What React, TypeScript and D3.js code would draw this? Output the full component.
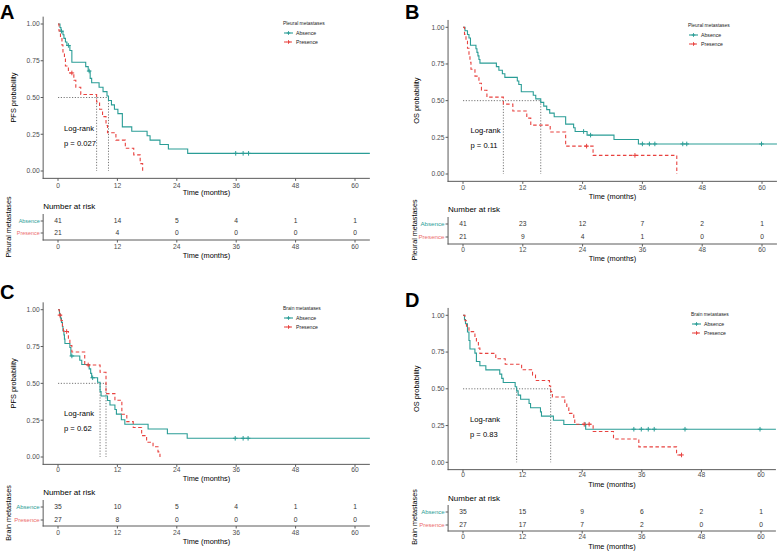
import React from "react";
import * as d3 from "d3";

type Pt = [number, number];

const timeTicks = [0, 12, 24, 36, 48, 60];
const probTicks = [0, 0.25, 0.5, 0.75, 1];
const groupNames = ["Absence", "Presence"];
const colors = ["#2A9D96", "#E8423F"];
const tableLabelColors = ["#2A9D96", "#EC6C6C"];

// ---- Panel A: PFS by pleural metastases ----
const aAbsence: Pt[] = [
  [0.4, 0.976], [0.6, 0.951], [1.0, 0.927], [1.2, 0.902], [1.5, 0.878], [1.8, 0.854],
  [2.4, 0.82], [2.8, 0.74], [5.6, 0.71], [6.1, 0.68], [6.5, 0.63], [6.8, 0.6],
  [8.3, 0.57], [9.1, 0.54], [9.9, 0.51], [10.2, 0.48], [10.8, 0.45], [11.4, 0.42],
  [12.1, 0.39], [13.0, 0.3], [14.9, 0.27], [18.0, 0.24], [18.6, 0.21], [20.6, 0.18],
  [22.3, 0.15], [26.2, 0.12],
];
const aAbsenceCensor = [0.7, 2.1, 6.3, 35.9, 37.4, 38.5];
const aAbsenceEnd = 63;
const aPresence: Pt[] = [
  [0.2, 0.952], [0.5, 0.905], [0.8, 0.857], [1.0, 0.81], [1.3, 0.762], [1.5, 0.714],
  [2.1, 0.667], [3.2, 0.617], [3.6, 0.57], [4.6, 0.52], [7.8, 0.47], [8.4, 0.42],
  [9.0, 0.37], [9.7, 0.31], [10.0, 0.26], [11.7, 0.21], [13.6, 0.155], [15.3, 0.11],
  [16.6, 0.05], [17.1, 0.0],
];
const aPresenceCensor = [2.8];
const aPresenceEnd = 17.1;
const aRiskAbsence = [41, 14, 5, 4, 1, 1];
const aRiskPresence = [21, 4, 0, 0, 0, 0];

// ---- Panel B: OS by pleural metastases ----
const bAbsence: Pt[] = [
  [0.4, 0.976], [0.9, 0.951], [1.2, 0.927], [1.5, 0.878], [2.6, 0.854], [2.8, 0.829],
  [3.0, 0.805], [3.2, 0.78], [3.4, 0.756], [6.7, 0.732], [7.2, 0.707], [7.9, 0.683],
  [8.4, 0.659], [10.9, 0.634], [11.2, 0.61], [11.7, 0.561], [14.1, 0.537], [14.6, 0.512],
  [15.6, 0.488], [16.2, 0.463], [16.8, 0.439], [17.4, 0.415], [18.3, 0.39], [20.6, 0.34],
  [22.2, 0.315], [22.5, 0.29], [24.9, 0.265], [30.3, 0.235], [35.2, 0.205],
];
const bAbsenceCensor = [24.2, 25.6, 36.0, 37.4, 38.5, 44.1, 44.9, 59.9];
const bAbsenceEnd = 63;
const bPresence: Pt[] = [
  [0.3, 0.952], [0.6, 0.905], [0.9, 0.857], [1.2, 0.81], [1.4, 0.762], [1.6, 0.714],
  [2.4, 0.667], [3.2, 0.619], [3.7, 0.571], [4.8, 0.524], [8.1, 0.476], [10.0, 0.429],
  [12.8, 0.381], [13.6, 0.333], [17.5, 0.286], [20.6, 0.19], [26.1, 0.127], [42.9, 0.0],
];
const bPresenceCensor = [24.8, 34.5];
const bPresenceEnd = 42.9;
const bRiskAbsence = [41, 23, 12, 7, 2, 1];
const bRiskPresence = [21, 9, 4, 1, 0, 0];

// ---- Panel C: PFS by brain metastases ----
const cAbsence: Pt[] = [
  [0.3, 0.971], [0.5, 0.943], [0.7, 0.914], [0.9, 0.886], [1.0, 0.857], [1.2, 0.829],
  [1.3, 0.8], [1.4, 0.771], [2.4, 0.743], [2.6, 0.686], [4.4, 0.657], [4.8, 0.628],
  [6.3, 0.598], [6.6, 0.568], [6.8, 0.538], [8.0, 0.507], [8.5, 0.445], [8.7, 0.414],
  [10.0, 0.384], [10.5, 0.353], [11.5, 0.322], [11.8, 0.291], [12.8, 0.253],
  [13.5, 0.222], [18.2, 0.19], [22.1, 0.158], [26.1, 0.127],
];
const cAbsenceCensor = [2.8, 7.0, 35.8, 37.4, 38.4];
const cAbsenceEnd = 63;
const cPresence: Pt[] = [
  [0.27, 0.963], [0.6, 0.926], [0.9, 0.889], [1.1, 0.852], [2.1, 0.8], [2.4, 0.757],
  [2.8, 0.713], [5.4, 0.625], [8.5, 0.575], [9.7, 0.43], [11.5, 0.385], [12.9, 0.29],
  [13.9, 0.24], [15.2, 0.2], [16.9, 0.145], [17.9, 0.1], [19.2, 0.07], [20.2, 0.035],
  [20.6, 0.0],
];
const cPresenceCensor = [0.4, 1.75, 6.1];
const cPresenceEnd = 20.6;
const cRiskAbsence = [35, 10, 5, 4, 1, 1];
const cRiskPresence = [27, 8, 0, 0, 0, 0];

// ---- Panel D: OS by brain metastases ----
const dAbsence: Pt[] = [
  [0.3, 0.971], [0.5, 0.943], [0.9, 0.886], [1.2, 0.829], [1.4, 0.771], [2.4, 0.743],
  [2.7, 0.686], [3.4, 0.657], [4.6, 0.629], [7.4, 0.6], [7.8, 0.571], [8.1, 0.543],
  [10.5, 0.514], [10.8, 0.486], [11.1, 0.457], [11.6, 0.429], [13.3, 0.4], [13.6, 0.371],
  [15.6, 0.343], [15.8, 0.314], [18.2, 0.286], [20.3, 0.257], [24.7, 0.225],
];
const dAbsenceCensor = [24.6, 34.4, 35.9, 37.3, 38.5, 44.7, 59.8];
const dAbsenceEnd = 63;
const dPresence: Pt[] = [
  [0.4, 0.963], [0.7, 0.926], [1.2, 0.889], [2.4, 0.852], [2.7, 0.815], [3.1, 0.778],
  [3.4, 0.741], [6.6, 0.704], [8.5, 0.667], [11.8, 0.63], [14.0, 0.593], [14.6, 0.556],
  [17.4, 0.519], [17.65, 0.481], [18.0, 0.444], [20.5, 0.407], [20.9, 0.37], [21.3, 0.333],
  [22.3, 0.296], [22.5, 0.259], [26.2, 0.21], [30.3, 0.158], [35.4, 0.105], [43.0, 0.05],
];
const dPresenceCensor = [24.4, 25.4, 44.0];
const dPresenceEnd = 44.0;
const dRiskAbsence = [35, 15, 9, 6, 2, 1];
const dRiskPresence = [27, 17, 7, 2, 0, 0];

const FONT = "'Liberation Sans', Arial, Helvetica, sans-serif";

type Curve = { steps: Pt[]; censor: number[]; end: number };

type PanelCfg = {
  letter: string;
  letterX: number;
  letterY: number;
  yLabel: string;
  legendTitle: string;
  pValue: string;
  curves: Curve[];
  risk: number[][];
  x0: number;
  x60: number;
  y1: number;
  y0: number;
  tickY: number;
  titleY: number;
  yLabX: number;
  legX: number;
  legY: number;
  lrX: number;
  lrY: number;
  narY: number;
  row1: number;
  row2: number;
  tAxisY: number;
  tTickY: number;
  tTitleY: number;
  groupX: number;
  groupY: number;
  rowLabelSize: number;
};

const panels: PanelCfg[] = [
  {
    letter: "A", letterX: 0, letterY: 18.5, yLabel: "PFS probability", legendTitle: "Pleural metastases",
    pValue: "p = 0.027",
    curves: [
      { steps: aAbsence, censor: aAbsenceCensor, end: aAbsenceEnd },
      { steps: aPresence, censor: aPresenceCensor, end: aPresenceEnd },
    ],
    risk: [aRiskAbsence, aRiskPresence],
    x0: 58, x60: 355, y1: 24, y0: 171, tickY: 186, titleY: 192.5, yLabX: 13,
    legX: 283, legY: 23, lrX: 64, lrY: 128,
    narY: 206, row1: 221, row2: 233, tAxisY: 240, tTickY: 247, tTitleY: 255,
    groupX: 8, groupY: 227, rowLabelSize: 5.4,
  },
  {
    letter: "B", letterX: 405, letterY: 18.5, yLabel: "OS probability", legendTitle: "Pleural metastases",
    pValue: "p = 0.11",
    curves: [
      { steps: bAbsence, censor: bAbsenceCensor, end: bAbsenceEnd },
      { steps: bPresence, censor: bPresenceCensor, end: bPresenceEnd },
    ],
    risk: [bRiskAbsence, bRiskPresence],
    x0: 463, x60: 762, y1: 27.3, y0: 174, tickY: 187.5, titleY: 196, yLabX: 416,
    legX: 688, legY: 25, lrX: 470.5, lrY: 130.5,
    narY: 209, row1: 224, row2: 237, tAxisY: 244, tTickY: 250, tTitleY: 258,
    groupX: 414, groupY: 230, rowLabelSize: 6.2,
  },
  {
    letter: "C", letterX: 0, letterY: 299, yLabel: "PFS probability", legendTitle: "Brain metastases",
    pValue: "p = 0.62",
    curves: [
      { steps: cAbsence, censor: cAbsenceCensor, end: cAbsenceEnd },
      { steps: cPresence, censor: cPresenceCensor, end: cPresenceEnd },
    ],
    risk: [cRiskAbsence, cRiskPresence],
    x0: 58, x60: 355, y1: 309.7, y0: 457, tickY: 470, titleY: 478, yLabX: 13,
    legX: 283, legY: 308, lrX: 64, lrY: 413.5,
    narY: 492, row1: 507, row2: 520, tAxisY: 526, tTickY: 533, tTitleY: 541,
    groupX: 8, groupY: 513, rowLabelSize: 6,
  },
  {
    letter: "D", letterX: 405, letterY: 307, yLabel: "OS probability", legendTitle: "Brain metastases",
    pValue: "p = 0.83",
    curves: [
      { steps: dAbsence, censor: dAbsenceCensor, end: dAbsenceEnd },
      { steps: dPresence, censor: dPresenceCensor, end: dPresenceEnd },
    ],
    risk: [dRiskAbsence, dRiskPresence],
    x0: 463, x60: 761, y1: 315.3, y0: 462.3, tickY: 475, titleY: 484, yLabX: 416,
    legX: 691, legY: 314, lrX: 470, lrY: 419.5,
    narY: 498, row1: 512, row2: 525, tAxisY: 531, tTickY: 537, tTitleY: 546,
    groupX: 414, groupY: 517, rowLabelSize: 6,
  },
];

function survAt(steps: Pt[], t: number): number {
  let s = 1;
  for (const [ti, si] of steps) {
    if (ti <= t) s = si;
    else break;
  }
  return s;
}

function median(steps: Pt[]): number | null {
  for (const [t, s] of steps) if (s <= 0.5) return t;
  return null;
}

const AXIS = "#5a5a5a";
const TICKTXT = "#4d4d4d";

function Plus({ cx, cy, color, r = 2.3 }: { cx: number; cy: number; color: string; r?: number }) {
  return (
    <g stroke={color} strokeWidth={1}>
      <line x1={cx - r} x2={cx + r} y1={cy} y2={cy} />
      <line x1={cx} x2={cx} y1={cy - r} y2={cy + r} />
    </g>
  );
}

function Panel({ c }: { c: PanelCfg }) {
  const x = d3.scaleLinear().domain([0, 60]).range([c.x0, c.x60]);
  const y = d3.scaleLinear().domain([0, 1]).range([c.y0, c.y1]);
  const line = d3
    .line<Pt>()
    .x((d) => x(d[0]))
    .y((d) => y(d[1]))
    .curve(d3.curveStepAfter);

  const xl = x(-3);
  const xr = x(63);
  const yb = y(-0.05);
  const yt = y(1.05);

  const medians = c.curves.map((cv) => median(cv.steps));
  const maxMed = d3.max(medians.filter((m) => m !== null) as number[]) ?? 0;

  const rows = [c.row1, c.row2];

  return (
    <g fontFamily={FONT}>
      <text x={c.letterX} y={c.letterY} fontSize={20} fontWeight="bold" fill="#000">
        {c.letter}
      </text>

      <g stroke="#555" strokeWidth={0.8} strokeDasharray="1.2,1.6" fill="none">
        <line x1={x(0)} x2={x(maxMed)} y1={y(0.5)} y2={y(0.5)} />
        {medians.map((m, i) =>
          m === null ? null : <line key={i} x1={x(m)} x2={x(m)} y1={y(0.5)} y2={y(0)} />
        )}
      </g>

      {c.curves.map((cv, i) => {
        const last = cv.steps[cv.steps.length - 1][1];
        const pts: Pt[] = [[0, 1], ...cv.steps, [cv.end, last]];
        return (
          <g key={i}>
            <path
              d={line(pts) ?? ""}
              fill="none"
              stroke={colors[i]}
              strokeWidth={1.1}
              strokeDasharray={i === 1 ? "3.5,2.5" : undefined}
            />
            {cv.censor.map((t, j) => (
              <Plus key={j} cx={x(t)} cy={y(survAt(cv.steps, t))} color={colors[i]} />
            ))}
          </g>
        );
      })}

      <g stroke={AXIS} strokeWidth={1}>
        <line x1={xl} x2={xl} y1={yt} y2={yb + 0.5} />
        <line x1={xl - 0.5} x2={xr} y1={yb} y2={yb} />
        {probTicks.map((p) => (
          <line key={p} x1={xl - 2.5} x2={xl} y1={y(p)} y2={y(p)} />
        ))}
        {timeTicks.map((t) => (
          <line key={t} x1={x(t)} x2={x(t)} y1={yb} y2={yb + 2.5} />
        ))}
      </g>
      <g fontSize={6.7} fill={TICKTXT}>
        {probTicks.map((p) => (
          <text key={p} x={xl - 3.5} y={y(p)} dy="0.35em" textAnchor="end">
            {d3.format(".2f")(p)}
          </text>
        ))}
        {timeTicks.map((t) => (
          <text key={t} x={x(t)} y={c.tickY} dy="0.35em" textAnchor="middle">
            {t}
          </text>
        ))}
      </g>
      <text x={(xl + xr) / 2} y={c.titleY} dy="0.35em" textAnchor="middle" fontSize={7.4} fill="#000">
        Time (months)
      </text>
      <text
        transform={`translate(${c.yLabX},${(yt + yb) / 2}) rotate(-90)`}
        textAnchor="middle"
        dy="0.35em"
        fontSize={7.4}
        fill="#000"
      >
        {c.yLabel}
      </text>

      <text x={c.lrX} y={c.lrY} dy="0.35em" fontSize={7.6} fill="#000">
        Log-rank
      </text>
      <text x={c.lrX} y={c.lrY + 15} dy="0.35em" fontSize={7.6} fill="#000">
        {c.pValue}
      </text>

      <text x={c.legX} y={c.legY} dy="0.35em" fontSize={4.9} fill="#222">
        {c.legendTitle}
      </text>
      {groupNames.map((g, i) => {
        const ly = c.legY + 10 + i * 9;
        return (
          <g key={g}>
            <line
              x1={c.legX + 1}
              x2={c.legX + 10}
              y1={ly}
              y2={ly}
              stroke={colors[i]}
              strokeWidth={1.1}
              strokeDasharray={i === 1 ? "3,2" : undefined}
            />
            <Plus cx={c.legX + 5.5} cy={ly} color={colors[i]} r={1.8} />
            <text x={c.legX + 13} y={ly} dy="0.35em" fontSize={5.2} fill="#222">
              {g}
            </text>
          </g>
        );
      })}

      <text x={xl} y={c.narY} dy="0.35em" fontSize={8} fill="#000">
        Number at risk
      </text>
      <g stroke={AXIS} strokeWidth={1}>
        <line x1={xl} x2={xl} y1={c.row1 - 7} y2={c.tAxisY + 0.5} />
        <line x1={xl - 0.5} x2={xr} y1={c.tAxisY} y2={c.tAxisY} />
        {rows.map((ry, i) => (
          <line key={i} x1={xl - 2.5} x2={xl} y1={ry} y2={ry} />
        ))}
        {timeTicks.map((t) => (
          <line key={t} x1={x(t)} x2={x(t)} y1={c.tAxisY} y2={c.tAxisY + 2.5} />
        ))}
      </g>
      {groupNames.map((g, i) => (
        <text
          key={g}
          x={xl - 3.5}
          y={rows[i]}
          dy="0.35em"
          textAnchor="end"
          fontSize={c.rowLabelSize}
          fill={tableLabelColors[i]}
        >
          {g}
        </text>
      ))}
      <g fontSize={6.7} fill="#333">
        {c.risk.map((vals, i) =>
          vals.map((v, j) => (
            <text key={`${i}-${j}`} x={x(timeTicks[j])} y={rows[i]} dy="0.35em" textAnchor="middle">
              {v}
            </text>
          ))
        )}
      </g>
      <g fontSize={6.7} fill={TICKTXT}>
        {timeTicks.map((t) => (
          <text key={t} x={x(t)} y={c.tTickY} dy="0.35em" textAnchor="middle">
            {t}
          </text>
        ))}
      </g>
      <text x={(xl + xr) / 2} y={c.tTitleY} dy="0.35em" textAnchor="middle" fontSize={7.4} fill="#000">
        Time (months)
      </text>
      <text
        transform={`translate(${c.groupX},${c.groupY}) rotate(-90)`}
        textAnchor="middle"
        dy="0.35em"
        fontSize={7.2}
        fill="#000"
      >
        {c.legendTitle}
      </text>
    </g>
  );
}

export default function App() {
  return (
    <svg
      width={778}
      height={551}
      viewBox="0 0 778 551"
      style={{ position: "absolute", left: 0, top: 0, background: "#fff" }}
    >
      <rect width={778} height={551} fill="#fff" />
      {panels.map((p) => (
        <Panel key={p.letter} c={p} />
      ))}
    </svg>
  );
}
